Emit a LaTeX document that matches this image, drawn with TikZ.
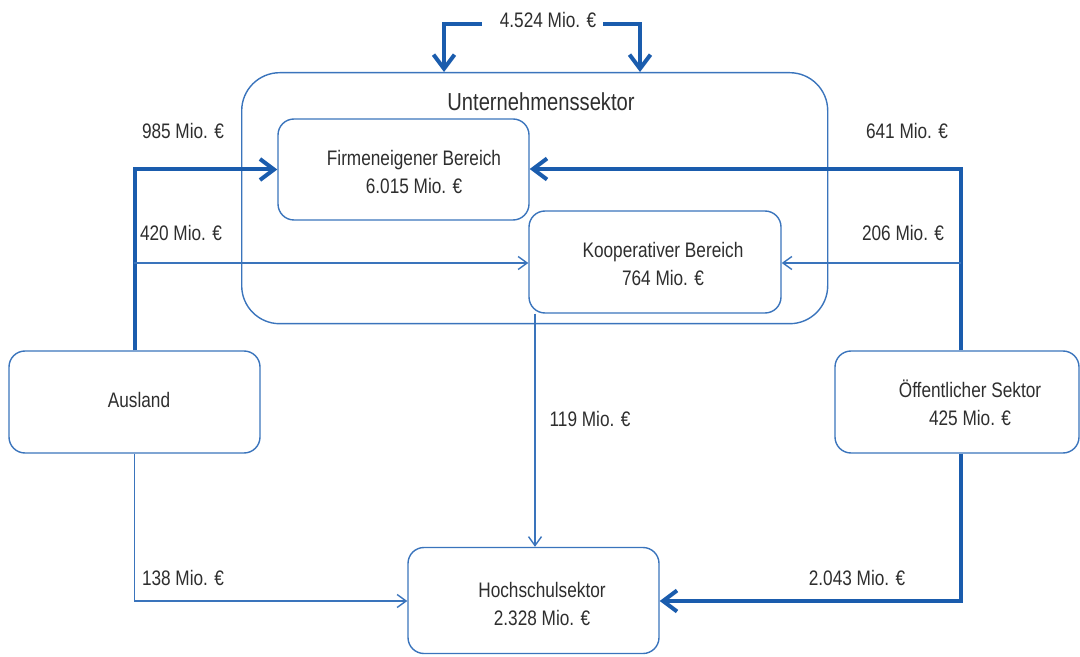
\documentclass[tikz,border=0pt]{standalone}
\usepackage{fontspec}
\setmainfont{Liberation Sans}[FakeStretch=0.82]
\usetikzlibrary{arrows.meta}
\definecolor{thickblue}{HTML}{1A5CAD}
\definecolor{thinblue}{HTML}{3A74BC}
\definecolor{txt}{HTML}{2E2E2E}
\begin{document}
\begin{tikzpicture}[x=0.5pt,y=-0.5pt,
  box/.style={draw=thinblue, line width=0.7pt, rounded corners=8pt, inner sep=0pt},
  lbl/.style={text=txt, inner sep=0pt, align=center, font=\fontsize{10.5}{14}\selectfont},
  thickarr/.style={draw=thickblue, line width=2pt, -{Straight Barb[length=7pt,width=10.5pt,line width=2pt]}},
  thinarr/.style={draw=thinblue, line width=0.7pt, -{Straight Barb[length=4.5pt,width=6.5pt,line width=0.7pt]}}]
\useasboundingbox (0,0) rectangle (1080,657);
% big box
\node[box, rounded corners=19pt, minimum width=293pt, minimum height=125.5pt, anchor=north west] (U) at (241,72) {};
\node[lbl, font=\fontsize{12.3}{14}\selectfont] (Ut) at (541,102) {Unternehmenssektor};
\node[box, minimum width=125.5pt, minimum height=50.5pt] (F) at (403.5,169.5) {};
\node[lbl] (Ft) at (414,171.5) {Firmeneigener Bereich\\6.015 Mio. €};
\node[box, fill=white, minimum width=126pt, minimum height=51pt] (K) at (655,262) {};
\node[lbl] (Kt) at (663,263.5) {Kooperativer Bereich\\764 Mio. €};
\node[box, minimum width=125.5pt, minimum height=51pt] (A) at (134.5,402) {};
\node[lbl] (At) at (139,400) {Ausland};
\node[box, minimum width=122pt, minimum height=51pt] (O) at (957,402) {};
\node[lbl] (Ot) at (970,402.5) {Öffentlicher Sektor\\425 Mio. €};
\node[box, minimum width=125.5pt, minimum height=53pt] (H) at (533.5,600.5) {};
\node[lbl] (Ht) at (542,603.5) {Hochschulsektor\\2.328 Mio. €};
% top loop
\coordinate (t1) at (482,24);
\coordinate (t2) at (603,24);
\draw[thickarr] (t1) -| (444,72);
\draw[thickarr] (t2) -| (640,72);
\node[lbl] (l4524) at (548,20) {4.524 Mio. €};
% Ausland flows
\draw[thickarr] (A.north) |- (F.west);
\draw[thinarr] (134,263) -- (K.west |- 0,263);
\draw[thinarr] (A.south) |- (H.west |- 0,601);
% Oeffentlicher flows
\draw[thickarr] (O.north -| 961,0) |- (F.east |- 0,169);
\draw[thinarr] (961,263) -- (K.east |- 0,263);
\draw[thickarr] (O.south -| 961,0) |- (H.east |- 0,601);
% Kooperativ to Hochschul
\draw[thinarr] (K.south -| 535,0) -- (H.north -| 535,0);
% labels
\node[lbl] (l985) at (183,131) {985 Mio. €};
\node[lbl] (l420) at (181,233) {420 Mio. €};
\node[lbl] (l641) at (907,131) {641 Mio. €};
\node[lbl] (l206) at (903,233) {206 Mio. €};
\node[lbl] (l119) at (590,419) {119 Mio. €};
\node[lbl] (l138) at (183,578) {138 Mio. €};
\node[lbl] (l2043) at (857,578) {2.043 Mio. €};
\end{tikzpicture}
\end{document}
